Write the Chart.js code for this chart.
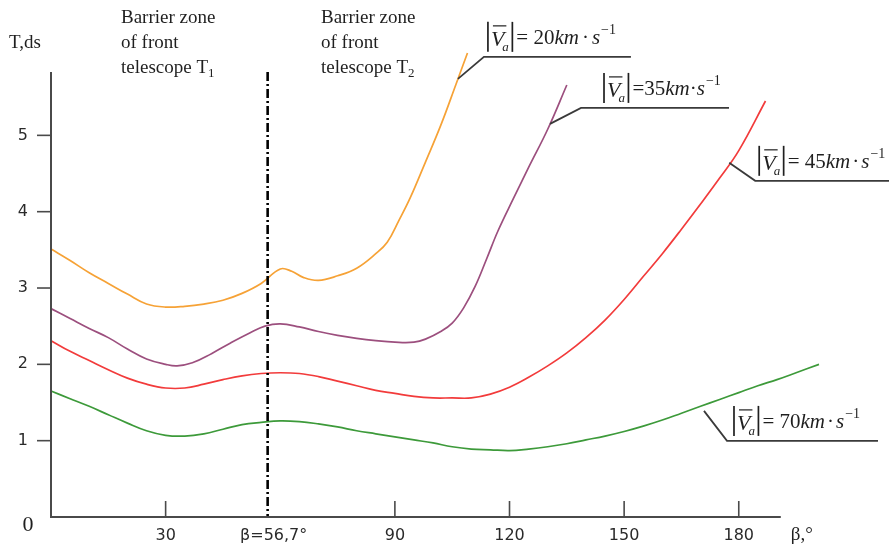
<!DOCTYPE html>
<html lang="en">
<head>
<meta charset="UTF-8">
<title>T(β) for several approach speeds</title>
<script src="https://cdn.jsdelivr.net/npm/chart.js"></script>
<style>
  html, body { margin: 0; padding: 0; background: #fff; }
</style>
</head>
<body>
<canvas id="tChart" width="889" height="552"></canvas>
<script>
// β in degrees, T in ds, one pair of arrays per speed
const v20Beta = [0, 5, 10, 15, 20, 25, 30, 35, 40, 45, 50, 55, 60, 63, 66, 70, 75, 80, 85, 88, 91, 94, 98, 102, 106, 109];
const v20T    = [3.51, 3.36, 3.20, 3.06, 2.92, 2.79, 2.75, 2.76, 2.79, 2.84, 2.93, 3.06, 3.25, 3.22, 3.14, 3.10, 3.16, 3.26, 3.45, 3.60, 3.88, 4.18, 4.65, 5.13, 5.67, 6.08];

const v35Beta = [0, 5, 10, 15, 20, 25, 30, 33, 37, 42, 47, 52, 56, 60, 65, 70, 75, 80, 85, 90, 95, 98, 102, 105, 108, 111, 114, 117, 121, 125, 130, 135];
const v35T    = [2.73, 2.60, 2.47, 2.35, 2.20, 2.07, 2.00, 1.98, 2.02, 2.14, 2.28, 2.41, 2.50, 2.53, 2.49, 2.43, 2.38, 2.34, 2.31, 2.29, 2.29, 2.33, 2.43, 2.54, 2.74, 3.02, 3.38, 3.75, 4.17, 4.58, 5.08, 5.66];

const v45Beta = [0, 5, 10, 15, 20, 25, 30, 35, 40, 45, 50, 55, 60, 65, 70, 75, 80, 85, 90, 95, 100, 105, 110, 115, 120, 125, 130, 135, 140, 145, 150, 155, 160, 165, 170, 175, 180, 187];
const v45T    = [2.31, 2.17, 2.05, 1.93, 1.82, 1.74, 1.69, 1.69, 1.74, 1.80, 1.85, 1.88, 1.89, 1.88, 1.84, 1.78, 1.72, 1.66, 1.62, 1.58, 1.56, 1.56, 1.56, 1.61, 1.70, 1.83, 1.98, 2.15, 2.35, 2.58, 2.85, 3.15, 3.45, 3.77, 4.10, 4.44, 4.80, 5.45];

const v70Beta = [0, 5, 10, 15, 20, 25, 30, 35, 40, 45, 50, 55, 60, 65, 70, 75, 80, 85, 90, 95, 100, 105, 110, 115, 120, 125, 130, 135, 140, 145, 150, 155, 160, 165, 170, 175, 180, 185, 190, 195, 201];
const v70T    = [1.65, 1.55, 1.45, 1.34, 1.23, 1.13, 1.07, 1.06, 1.09, 1.15, 1.21, 1.24, 1.26, 1.25, 1.22, 1.18, 1.13, 1.09, 1.05, 1.01, 0.97, 0.92, 0.89, 0.88, 0.87, 0.89, 0.92, 0.96, 1.01, 1.06, 1.12, 1.19, 1.27, 1.36, 1.45, 1.54, 1.63, 1.72, 1.80, 1.89, 2.00];

const speeds      = ['20', '35', '45', '70'];
const xTicks      = [30, 90, 120, 150, 180];
const yTicks      = [1, 2, 3, 4, 5];
const barrierBeta = 56.7;
const betaAxisEnd = 191;
const tAxisEnd    = 5.83;

// where each speed callout touches its curve
const calloutBeta = [106.5, 130.6, 177.5, 170.9];
const calloutT    = [5.74, 5.15, 4.64, 1.39];

const colors = ['#f6a236', '#9c4f7e', '#f23b3b', '#3d9a3a'];
const ink = '#1f1f1f';
const serif = '"Liberation Serif", "Times New Roman", serif';
const sans = '"DejaVu Sans", Verdana, sans-serif';

function toPoints(bs, ts) {
  return bs.map((b, i) => ({ x: b, y: ts[i] }));
}

function seg(ctx, x1, y1, x2, y2) {
  ctx.beginPath();
  ctx.moveTo(x1, y1);
  ctx.lineTo(x2, y2);
  ctx.stroke();
}

function runText(ctx, x, y, parts) {
  parts.forEach(p => {
    ctx.font = p.font;
    ctx.fillText(p.text, x, y + (p.dy || 0));
    x += ctx.measureText(p.text).width + (p.gap || 0);
  });
  return x;
}

// callout layout, in pixels relative to the touching point
const calloutStyle = [
  { dx: 26, dy: -22, len: 147, pad: 4, eq: '= 20', gap: 3 },
  { dx: 31, dy: -16, len: 148, pad: 23, eq: '=35', gap: 0 },
  { dx: 26, dy: 18, len: 140, pad: 4, eq: '= 45', gap: 2 },
  { dx: 23, dy: 30, len: 151, pad: 7, eq: '= 70', gap: 2 }
];

function speedCallout(ctx, px, py, st) {
  const ux = px + st.dx, uy = py + st.dy;
  ctx.strokeStyle = '#3a3a3a';
  ctx.lineWidth = 1.8;
  ctx.beginPath();
  ctx.moveTo(px, py);
  ctx.lineTo(ux, uy);
  ctx.lineTo(ux + st.len, uy);
  ctx.stroke();

  // |V̄a|
  const x0 = ux + st.pad;
  const top = uy - 35, bot = uy - 5;
  ctx.strokeStyle = ink;
  ctx.lineWidth = 1.7;
  seg(ctx, x0, top, x0, bot);
  ctx.fillStyle = ink;
  ctx.font = 'italic 22px ' + serif;
  const vw = ctx.measureText('V').width;
  ctx.fillText('V', x0 + 3, bot - 6);
  ctx.lineWidth = 1.2;
  seg(ctx, x0 + 5, top + 4, x0 + 5 + vw, top + 4);
  ctx.font = 'italic 13px ' + serif;
  ctx.fillText('a', x0 + 3 + vw - 2, bot - 1);
  const rx = x0 + vw + 11;
  ctx.lineWidth = 1.7;
  seg(ctx, rx, top, rx, bot);

  runText(ctx, rx + 4, bot - 8, [
    { text: st.eq, font: '21px ' + serif, gap: 0 },
    { text: 'km', font: 'italic 21px ' + serif, gap: st.gap },
    { text: '·', font: '21px ' + serif, gap: st.gap },
    { text: 's', font: 'italic 21px ' + serif, gap: 1 },
    { text: '−1', font: '14px ' + serif, dy: -10 }
  ]);
}

const axisDecor = {
  id: 'axisDecor',
  afterDatasetsDraw(chart) {
    const { ctx, chartArea: a, scales: { x, y } } = chart;
    const right = x.getPixelForValue(betaAxisEnd);
    const top = y.getPixelForValue(tAxisEnd);
    ctx.save();

    // barrier line between the two telescope zones
    const bx = x.getPixelForValue(barrierBeta);
    ctx.strokeStyle = '#000';
    ctx.lineWidth = 2.6;
    ctx.setLineDash([9, 3, 2, 3]);
    seg(ctx, bx, top, bx, a.bottom);
    ctx.setLineDash([]);

    // axes
    ctx.strokeStyle = '#4a4a4a';
    ctx.lineWidth = 2;
    ctx.beginPath();
    ctx.moveTo(a.left, top);
    ctx.lineTo(a.left, a.bottom);
    ctx.lineTo(right, a.bottom);
    ctx.stroke();

    ctx.lineWidth = 1.6;
    ctx.fillStyle = '#2a2a2a';
    ctx.font = '16px ' + sans;
    ctx.textAlign = 'right';
    ctx.textBaseline = 'middle';
    yTicks.forEach(v => {
      const py = y.getPixelForValue(v);
      seg(ctx, a.left - 14, py, a.left, py);
      ctx.fillText(String(v), a.left - 23, py);
    });

    ctx.textAlign = 'center';
    ctx.textBaseline = 'alphabetic';
    xTicks.forEach(v => {
      const px = x.getPixelForValue(v);
      seg(ctx, px, a.bottom, px, a.bottom - 16);
      ctx.fillText(String(v), px, a.bottom + 23);
    });
    ctx.fillText('β=' + String(barrierBeta).replace('.', ',') + '°', bx + 6, a.bottom + 23);

    // origin and axis names
    ctx.fillStyle = ink;
    ctx.font = '22px ' + serif;
    ctx.fillText('0', a.left - 23, a.bottom + 14);
    ctx.font = '19px ' + serif;
    ctx.textAlign = 'left';
    ctx.fillText('T,ds', 9, 48);
    ctx.fillText('β,°', right + 10, a.bottom + 23);

    // zone captions
    const zone = (left, sub) => {
      ctx.font = '19px ' + serif;
      ctx.fillText('Barrier zone', left, 23);
      ctx.fillText('of front', left, 48);
      const w = ctx.measureText('telescope T').width;
      ctx.fillText('telescope T', left, 73);
      ctx.font = '13px ' + serif;
      ctx.fillText(sub, left + w, 77);
    };
    zone(121, '1');
    zone(321, '2');

    // speed callouts
    calloutBeta.forEach((b, i) => {
      speedCallout(ctx, x.getPixelForValue(b), y.getPixelForValue(calloutT[i]), calloutStyle[i]);
    });

    ctx.restore();
  }
};

const series = [
  toPoints(v20Beta, v20T),
  toPoints(v35Beta, v35T),
  toPoints(v45Beta, v45T),
  toPoints(v70Beta, v70T)
];

new Chart(document.getElementById('tChart').getContext('2d'), {
  type: 'line',
  data: {
    datasets: series.map((d, i) => ({
      label: speeds[i] + ' km/s',
      data: d,
      borderColor: colors[i],
      borderWidth: 1.7,
      pointRadius: 0,
      tension: 0.4,
      fill: false,
      clip: false
    }))
  },
  options: {
    responsive: false,
    animation: false,
    layout: { padding: { left: 51, right: 70, top: 72, bottom: 35 } },
    plugins: { legend: { display: false }, tooltip: { enabled: false } },
    scales: {
      x: { type: 'linear', min: 0, max: 201, display: false },
      y: { type: 'linear', min: 0, max: tAxisEnd, display: false }
    }
  },
  plugins: [axisDecor]
});
</script>
</body>
</html>
